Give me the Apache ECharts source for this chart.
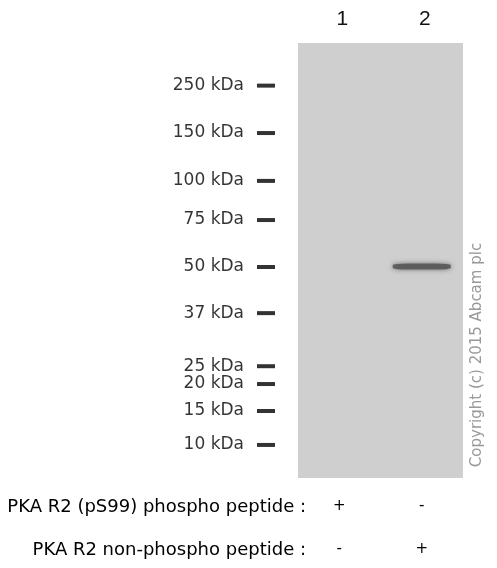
<!DOCTYPE html>
<html>
<head>
<meta charset="utf-8">
<script src="https://cdn.jsdelivr.net/npm/echarts@6/dist/echarts.min.js"></script>
<style>
    html, body { margin: 0; padding: 0; background: #fff; }
    #chart { width: 497px; height: 568px; }
</style>
</head>
<body>
<div id="chart"></div>
<script>
(function () {

    // lanes of the blot
    var lanes = ['1', '2'];

    // ladder: marker size and migration (percent of blot length from top)
    var markerSizes = [250, 150, 100, 75, 50, 37, 25, 20, 15, 10];
    var markerMigration = [9.8, 20.7, 31.7, 40.7, 51.5, 62.1, 74.3, 78.4, 84.6, 92.4];

    // detected bands
    var bandLanes = ['2'];
    var bandMigration = [51.4];

    // peptide treatment rows
    var rowLabels = ['PKA R2 (pS99) phospho peptide :', 'PKA R2 non-phospho peptide :'];
    var phosphoPeptide = ['+', '-'];
    var nonPhosphoPeptide = ['-', '+'];

    var font = '"DejaVu Sans", Verdana, sans-serif';
    var laneFont = '"Liberation Sans", Arial, sans-serif';
    var ink = '#000';

    var chart = echarts.init(document.getElementById('chart'));

    var markerData = markerSizes.map(function (size, i) {
        return { name: size + ' kDa', value: [0.5, markerMigration[i]] };
    });
    var bandData = bandLanes.map(function (lane, i) {
        return [lane, bandMigration[i]];
    });

    function signAxis(signs, offset) {
        return {
            type: 'category',
            gridIndex: 0,
            position: 'bottom',
            offset: offset,
            data: lanes,
            axisLine: { show: false },
            axisTick: { show: false },
            axisLabel: {
                margin: 21,
                fontFamily: font,
                fontSize: 15,
                color: ink,
                formatter: function (v, i) { return signs[i]; }
            }
        };
    }

    var option = {
        animation: false,
        grid: [
            { left: 298, top: 43, width: 165, height: 435, show: true,
              backgroundColor: '#cfcfcf', borderWidth: 0 },
            { left: 257, top: 43, width: 18, height: 435 }
        ],
        xAxis: [
            {
                type: 'category',
                gridIndex: 0,
                position: 'top',
                data: lanes,
                axisLine: { show: false },
                axisTick: { show: false },
                axisLabel: { margin: 13, fontFamily: laneFont, fontSize: 21, color: '#111',
                             padding: [0, 0, 0, 6] }
            },
            signAxis(phosphoPeptide, 0),
            signAxis(nonPhosphoPeptide, 43),
            { type: 'value', gridIndex: 1, min: 0, max: 1, show: false }
        ],
        yAxis: [
            { type: 'value', gridIndex: 0, inverse: true, min: 0, max: 100, show: false },
            { type: 'value', gridIndex: 1, inverse: true, min: 0, max: 100, show: false }
        ],
        series: [
            {
                type: 'scatter',
                xAxisIndex: 3,
                yAxisIndex: 1,
                symbol: 'rect',
                symbolSize: [18, 4],
                itemStyle: { color: '#000' },
                label: {
                    show: true,
                    position: 'left',
                    distance: 13,
                    formatter: '{b}',
                    fontFamily: font,
                    fontSize: 17,
                    color: ink
                },
                data: markerData
            },
            {
                type: 'scatter',
                xAxisIndex: 0,
                yAxisIndex: 0,
                symbol: 'roundRect',
                symbolSize: [58, 6],
                itemStyle: {
                    color: '#505050',
                    shadowBlur: 5,
                    shadowColor: 'rgba(80,80,80,0.9)'
                },
                data: bandData
            }
        ],
        graphic: [
            {
                type: 'text',
                x: 306, y: 507,
                style: { text: rowLabels[0], font: '18px ' + font, fill: ink,
                         align: 'right', verticalAlign: 'middle' }
            },
            {
                type: 'text',
                x: 306, y: 550,
                style: { text: rowLabels[1], font: '18px ' + font, fill: ink,
                         align: 'right', verticalAlign: 'middle' }
            },
            {
                type: 'text',
                x: 477, y: 355,
                rotation: Math.PI / 2,
                style: { text: 'Copyright (c) 2015 Abcam plc', font: '15px ' + font,
                         fill: '#999', align: 'center', verticalAlign: 'middle' }
            }
        ]
    };

    chart.setOption(option);
})();
</script>
</body>
</html>
